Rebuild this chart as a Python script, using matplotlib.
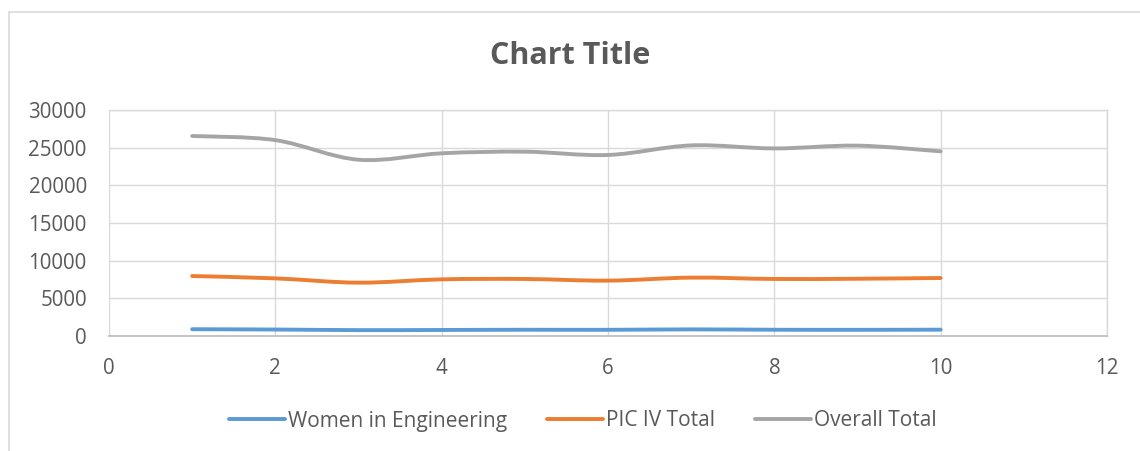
import numpy as np
import matplotlib.pyplot as plt
from matplotlib.path import Path
from matplotlib.patches import PathPatch, Rectangle
from matplotlib.lines import Line2D

plt.rcParams['font.family'] = ['Open Sans', 'DejaVu Sans']

x = [1, 2, 3, 4, 5, 6, 7, 8, 9, 10]
women_eng = [900, 860, 780, 800, 830, 820, 880, 830, 820, 840]
pic_iv_total = [7960, 7650, 7080, 7520, 7570, 7350, 7750, 7570, 7600, 7700]
overall_total = [26550, 26000, 23400, 24250, 24470, 24030, 25300, 24900, 25270, 24510]

series = [
    ("Women in Engineering", women_eng, "#5B9BD5"),
    ("PIC IV Total", pic_iv_total, "#ED7D31"),
    ("Overall Total", overall_total, "#A5A5A5"),
]
text_color = "#595959"


def smooth_path(xs, ys):
    # Excel-style smoothed line: cubic bezier segments through the points
    pts = np.column_stack([xs, ys]).astype(float)
    n = len(pts)
    verts = [pts[0]]
    codes = [Path.MOVETO]
    for i in range(n - 1):
        p0 = pts[i - 1] if i > 0 else pts[i]
        p1 = pts[i]
        p2 = pts[i + 1]
        p3 = pts[i + 2] if i + 2 < n else pts[i + 1]
        c1 = p1 + (p2 - p0) / 6.0
        c2 = p2 - (p3 - p1) / 6.0
        verts += [c1, c2, p2]
        codes += [Path.CURVE4] * 3
    return Path(verts, codes)


fig = plt.figure(figsize=(11.4, 4.51), dpi=100)
ax = fig.add_axes([109 / 1140, 1 - 336 / 451, (1107 - 109) / 1140, (336 - 110) / 451])

for name, vals, color in series:
    patch = PathPatch(smooth_path(x, vals), fill=False, edgecolor=color,
                      linewidth=2.8, capstyle='round', zorder=3)
    ax.add_patch(patch)

ax.set_xlim(0, 12)
ax.set_ylim(0, 30000)
ax.set_xticks(range(0, 13, 2))
ax.set_yticks(range(0, 30001, 5000))
ax.grid(True, color="#D9D9D9", linewidth=1.0)
ax.set_axisbelow(True)
for side in ["left", "top", "right"]:
    ax.spines[side].set_color("#D9D9D9")
    ax.spines[side].set_linewidth(1.0)
ax.spines["left"].set_visible(False)
ax.spines["bottom"].set_color("#BFBFBF")
ax.spines["bottom"].set_linewidth(1.3)
ax.tick_params(axis="both", length=0, labelsize=14.8, colors=text_color)
ax.tick_params(axis="x", pad=16)
ax.tick_params(axis="y", pad=16)

fig.text(0.5, 1 - 56 / 451, "Chart Title", ha="center", va="center",
         fontsize=22, fontweight="bold", color=text_color)

handles = [Line2D([], [], color=c, linewidth=2.8, solid_capstyle='round') for _, _, c in series]
labels = [n for n, _, _ in series]
fig.legend(handles, labels, loc="center", bbox_to_anchor=(583 / 1140, 1 - 421 / 451),
           ncol=3, frameon=False, fontsize=15, handlelength=2.7,
           handletextpad=0.15, columnspacing=1.9, labelcolor=text_color)

# outer chart border
fig.patches.append(Rectangle((8.5 / 1140, -0.1), 1.2, 1 - 11.5 / 451 + 0.1,
                             transform=fig.transFigure, fill=False,
                             edgecolor="#D9D9D9", linewidth=1.2))

fig.savefig("out.png", dpi=100)
